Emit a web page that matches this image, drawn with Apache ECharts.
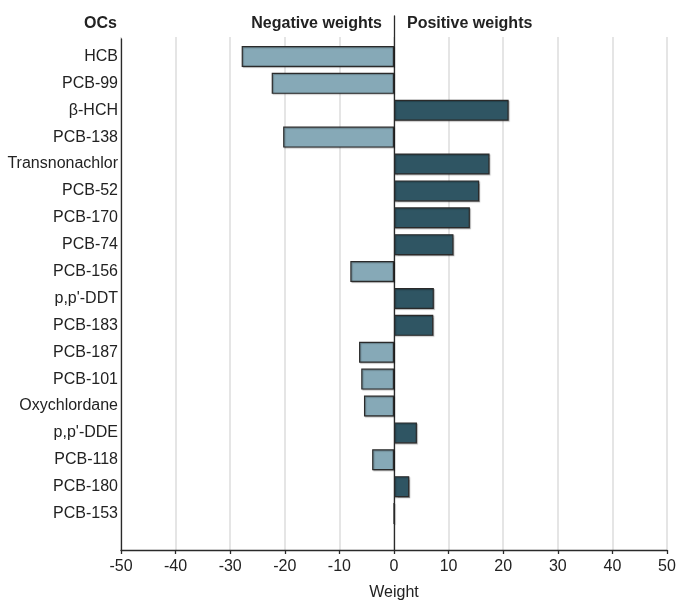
<!DOCTYPE html>
<html>
<head>
<meta charset="utf-8">
<script src="https://cdn.jsdelivr.net/npm/echarts@6/dist/echarts.min.js"></script>
<style>html,body{margin:0;padding:0;background:#fff}#c{width:677px;height:600px}</style>
</head>
<body>
<div id="c"></div>
<script>
const categories = ["HCB","PCB-99","β-HCH","PCB-138","Transnonachlor","PCB-52","PCB-170","PCB-74","PCB-156","p,p'-DDT","PCB-183","PCB-187","PCB-101","Oxychlordane","p,p'-DDE","PCB-118","PCB-180","PCB-153"];
const weights = [-27.9,-22.4,21.0,-20.3,17.5,15.6,13.9,10.9,-8.0,7.3,7.2,-6.4,-6.0,-5.5,4.2,-4.0,2.8,0];
const xTicks = { min: -50, max: 50, interval: 10 };
const headerTexts = { axis: "OCs", neg: "Negative weights", pos: "Positive weights" };
const xName = "Weight";

const FONT = "'Liberation Sans Narrow', 'Liberation Sans', sans-serif";
const NEG = "#86a9b7", POS = "#2f5563", DARK = "#2a2a2a";
const L = 121, R = 10, B = 50;

const chart = echarts.init(document.getElementById('c'), null, {renderer:'canvas'});
const hiddenX = i => ({type:'value', gridIndex:i, min:xTicks.min, max:xTicks.max, interval:xTicks.interval, show:false});
const g = o => Object.assign({left:L, right:R, containLabel:false, outerBoundsMode:'none'}, o);
chart.setOption({
  animation:false,
  textStyle:{fontFamily:FONT},
  grid:[
    g({top:37, bottom:B}),
    g({top:39, bottom:B}),
    g({top:16, bottom:B}),
    g({top:43, height:484})
  ],
  xAxis:[
    {type:'value', gridIndex:0, min:xTicks.min, max:xTicks.max, interval:xTicks.interval,
     axisLine:{show:true, onZero:false, lineStyle:{color:DARK, width:1.3}},
     axisTick:{show:true, length:4, lineStyle:{color:DARK, width:1.3}},
     axisLabel:{fontFamily:FONT, fontSize:16, color:'#222', margin:9},
     splitLine:{show:true, lineStyle:{color:'#dcdcdc', width:1.5}},
     name:xName, nameLocation:'middle', nameGap:35,
     nameTextStyle:{fontFamily:FONT, fontSize:16, color:'#222'}},
    hiddenX(1), hiddenX(2), hiddenX(3)
  ],
  yAxis:[
    {type:'value', gridIndex:0, min:0, max:1, show:false},
    {type:'value', gridIndex:1, min:0, max:1, axisLine:{show:true, onZero:false, lineStyle:{color:DARK, width:1.3}},
     axisTick:{show:false}, axisLabel:{show:false}, splitLine:{show:false}},
    {type:'value', gridIndex:2, min:0, max:1, axisLine:{show:true, onZero:true, lineStyle:{color:DARK, width:1.3}},
     axisTick:{show:false}, axisLabel:{show:false}, splitLine:{show:false}},
    {type:'category', gridIndex:3, data:categories, inverse:true,
     axisLine:{show:false, onZero:false}, axisTick:{show:false}, splitLine:{show:false},
     axisLabel:{fontFamily:FONT, fontSize:16, color:'#222', margin:3}}
  ],
  series:[{
    type:'bar', xAxisIndex:3, yAxisIndex:3, barWidth:21,
    data: weights,
    itemStyle:{
      color: p => p.value < 0 ? NEG : POS,
      borderColor: DARK, borderWidth:1.2,
      shadowColor:'rgba(0,0,0,0.25)', shadowBlur:1, shadowOffsetX:1, shadowOffsetY:1
    }
  }],
  graphic:[
    {type:'text', x:117, y:24, style:{text:headerTexts.axis, align:'right', verticalAlign:'middle', font:"bold 16px "+FONT, fill:'#222'}},
    {type:'text', x:382, y:24, style:{text:headerTexts.neg, align:'right', verticalAlign:'middle', font:"bold 16px "+FONT, fill:'#222'}},
    {type:'text', x:407, y:24, style:{text:headerTexts.pos, align:'left', verticalAlign:'middle', font:"bold 16px "+FONT, fill:'#222'}}
  ]
});
</script>
</body>
</html>
